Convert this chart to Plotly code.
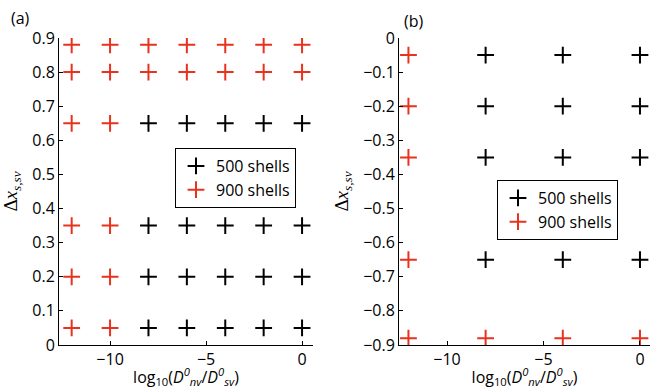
import plotly.graph_objects as go

# Panel (a) data
a_x_all = [-12, -10, -8, -6, -4, -2, 0]
a_black_x = [-8, -6, -4, -2, 0]
a_black_y = [0.65, 0.35, 0.2, 0.05]
a_red_full_y = [0.88, 0.8]
a_red_left_x = [-12, -10]
a_red_left_y = [0.65, 0.35, 0.2, 0.05]

# Panel (b) data
b_x_all = [-12, -8, -4, 0]
b_black_x = [-8, -4, 0]
b_black_y = [-0.05, -0.2, -0.35, -0.65]
b_red_left_x = [-12]
b_red_left_y = [-0.05, -0.2, -0.35, -0.65, -0.88]
b_red_bottom_y = [-0.88]

a_yticks = [0, 0.1, 0.2, 0.3, 0.4, 0.5, 0.6, 0.7, 0.8, 0.9]
a_yticktext = ["0", "0.1", "0.2", "0.3", "0.4", "0.5", "0.6", "0.7", "0.8", "0.9"]
b_yticks = [0, -0.1, -0.2, -0.3, -0.4, -0.5, -0.6, -0.7, -0.8, -0.9]
b_yticktext = ["0", "−0.1", "−0.2", "−0.3", "−0.4", "−0.5", "−0.6", "−0.7", "−0.8", "−0.9"]
xticks = [-10, -5, 0]

RED = "#e8321e"
BLACK = "#000000"

def grid(xs, ys):
    px, py = [], []
    for y in ys:
        for x in xs:
            px.append(x)
            py.append(y)
    return px, py

def marker(color):
    return dict(symbol="cross-thin", size=12, line=dict(color=color, width=2), color=color)

fig = go.Figure()

# (a)
bx, by = grid(a_black_x, a_black_y)
fig.add_trace(go.Scatter(x=bx, y=by, mode="markers", marker=marker(BLACK),
                         name="500 shells", xaxis="x", yaxis="y", legend="legend"))
rx1, ry1 = grid(a_x_all, a_red_full_y)
rx2, ry2 = grid(a_red_left_x, a_red_left_y)
fig.add_trace(go.Scatter(x=rx1 + rx2, y=ry1 + ry2, mode="markers", marker=marker(RED),
                         name="900 shells", xaxis="x", yaxis="y", legend="legend"))

# (b)
bx, by = grid(b_black_x, b_black_y)
fig.add_trace(go.Scatter(x=bx, y=by, mode="markers", marker=marker(BLACK),
                         name="500 shells", xaxis="x2", yaxis="y2", legend="legend2"))
rx1, ry1 = grid(b_red_left_x, b_red_left_y)
rx2, ry2 = grid(b_x_all[1:], b_red_bottom_y)
fig.add_trace(go.Scatter(x=rx1 + rx2, y=ry1 + ry2, mode="markers", marker=marker(RED),
                         name="900 shells", xaxis="x2", yaxis="y2", legend="legend2"))

W, H = 651, 389
FS = 16
tickfont = dict(family="Open Sans", size=FS, color="#000")
xtitle = dict(text="log<sub>10</sub>(<i>D</i><sup><i>0</i></sup><sub><i>nv</i></sub>/<i>D</i><sup><i>0</i></sup><sub><i>sv</i></sub>)",
              font=dict(family="Open Sans", size=FS, color="#000"), standoff=5)
ytitle_text = "Δ<i>x</i><sub><i>s,sv</i></sub>"
ytitle_font = dict(family="Liberation Serif", size=19, color="#000")

common_x = dict(showgrid=False, zeroline=False, showline=True, linecolor="#000", linewidth=1,
                ticks="inside", ticklen=4, tickcolor="#000", tickfont=tickfont,
                tickvals=xticks, mirror=False, automargin=True)
common_y = dict(showgrid=False, zeroline=False, showline=True, linecolor="#000", linewidth=1,
                ticks="inside", ticklen=4, tickcolor="#000", tickfont=tickfont, mirror=False,
                automargin=False)

yd = [1 - 345 / H, 1 - 38 / H]
legfont = dict(family="Open Sans", size=FS, color="#000")

fig.update_layout(
    width=W, height=H,
    margin=dict(l=0, r=0, t=0, b=0, autoexpand=False),
    paper_bgcolor="white", plot_bgcolor="white",
    xaxis=dict(domain=[59 / W, 313 / W], range=[-12.66, 0.57], anchor="y", title=xtitle, **common_x),
    yaxis=dict(domain=yd, range=[0, 0.9], anchor="x",
               title=dict(text=ytitle_text, font=ytitle_font, standoff=16),
               tickvals=a_yticks, ticktext=a_yticktext, **common_y),
    xaxis2=dict(domain=[399 / W, 650 / W], range=[-12.49, 0.52], anchor="y2", title=xtitle, **common_x),
    yaxis2=dict(domain=yd, range=[-0.9, 0], anchor="x2",
                title=dict(text=ytitle_text, font=ytitle_font, standoff=9),
                tickvals=b_yticks, ticktext=b_yticktext, **common_y),
    legend=dict(x=296 / W, y=1 - 148 / H, xanchor="right", yanchor="top",
                bordercolor="#000", borderwidth=1, bgcolor="white",
                font=legfont, itemwidth=30, tracegroupgap=0),
    legend2=dict(x=618 / W, y=1 - 180 / H, xanchor="right", yanchor="top",
                 bordercolor="#000", borderwidth=1, bgcolor="white",
                 font=legfont, itemwidth=30, tracegroupgap=0),
    annotations=[
        dict(text="(a)", x=9 / W, y=1 - 18 / H, xref="paper", yref="paper", showarrow=False,
             xanchor="left", yanchor="middle", font=dict(family="Open Sans", size=FS, color="#000")),
        dict(text="(b)", x=402 / W, y=1 - 21 / H, xref="paper", yref="paper", showarrow=False,
             xanchor="left", yanchor="middle", font=dict(family="Open Sans", size=FS, color="#000")),
    ],
    showlegend=True,
)

fig.write_html("out.html")
